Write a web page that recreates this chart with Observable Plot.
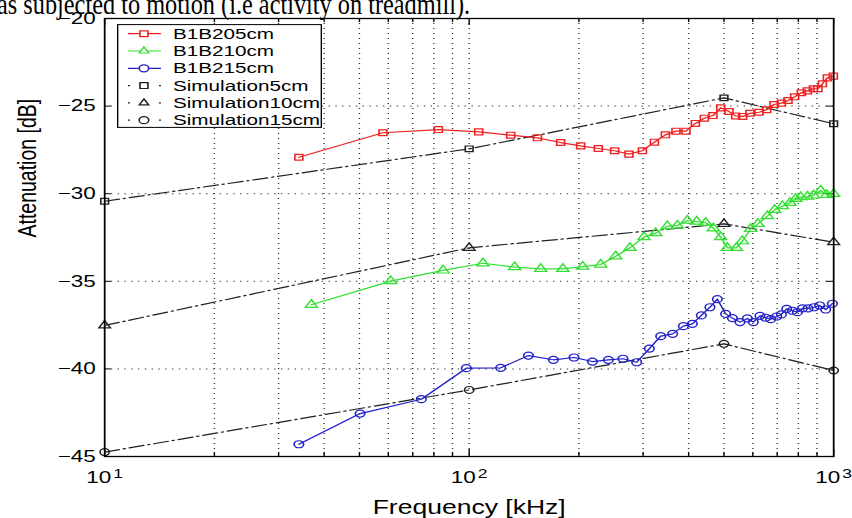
<!DOCTYPE html>
<html><head><meta charset="utf-8">
<script src="https://cdn.jsdelivr.net/npm/d3@7"></script>
<script src="https://cdn.jsdelivr.net/npm/@observablehq/plot@0.6"></script>
<style>
html,body{margin:0;padding:0;background:#fff;}
#wrap{position:relative;width:852px;height:518px;overflow:hidden;background:#fff;}
#title{position:absolute;left:-3px;top:-11px;font-family:"Liberation Serif","Times New Roman",serif;font-size:30px;line-height:30px;white-space:nowrap;color:#000;z-index:3;transform:scaleX(0.81);transform-origin:0 0;}
#chart{position:absolute;left:0;top:0;z-index:1}
#legend{position:absolute;left:117px;top:24px;z-index:2}
</style></head><body>
<div id="wrap"><div id="chart"></div><div id="title">as subjected to motion (i.e activity on treadmill).</div><svg id="legend"></svg></div>
<script>
// ---------- data ----------
const redFreq = [34.1, 58.0, 82.3, 106.2, 130.0, 153.9, 178.2, 202.2, 226.1, 250.7, 274.4, 298.7, 322.2, 345.4, 369.3, 393.3, 417.4, 441.8, 466.5, 489.8, 516.2, 538.4, 562.7, 589.3, 623.8, 655.0, 686.0, 718.8, 749.3, 781.6, 815.4, 847, 879.7, 905.6, 931.1, 961, 998];
const redVal  = [-27.92, -26.52, -26.34, -26.47, -26.66, -26.81, -27.08, -27.27, -27.42, -27.55, -27.74, -27.55, -27.06, -26.64, -26.43, -26.43, -25.99, -25.69, -25.54, -25.10, -25.31, -25.56, -25.59, -25.41, -25.35, -25.21, -24.91, -24.83, -24.68, -24.47, -24.24, -24.13, -24.01, -24.01, -23.73, -23.39, -23.29];

const greenFreq = [36.9, 60.9, 84.8, 109.1, 133.3, 157.1, 180.8, 204.8, 229.5, 252.3, 276.2, 301.7, 324.9, 349.8, 372.6, 396.8, 420.9, 445.5, 467.7, 489.8, 511.0, 540.8, 561.6, 591.9, 619.8, 657.9, 688.9, 723.4, 758.9, 786.7, 811.9, 847, 879.7, 921, 956.8, 1000];
const greenVal  = [-36.34, -34.99, -34.38, -33.97, -34.19, -34.29, -34.29, -34.16, -34.04, -33.57, -33.09, -32.48, -32.25, -31.85, -31.82, -31.53, -31.59, -31.66, -31.97, -32.48, -33.09, -33.09, -32.71, -32.01, -31.72, -31.28, -30.92, -30.71, -30.52, -30.29, -30.20, -30.16, -30.10, -29.82, -30.07, -30.01];

const blueFreq = [34.1, 50.2, 73.9, 98.2, 122.0, 145.4, 170.2, 193.9, 217.8, 240.9, 264.2, 288.1, 312.2, 335.3, 361.6, 386.9, 409.6, 433.5, 457.6, 479.6, 505.4, 527.3, 553.3, 579.6, 602.0, 627.7, 650.7, 671.7, 697.6, 718.8, 743.3, 770.4, 795.1, 820.6, 850.4, 883.1, 915.3, 950.8, 991.8];
const blueVal  = [-44.30, -42.55, -41.73, -39.96, -39.94, -39.24, -39.48, -39.35, -39.58, -39.48, -39.42, -39.62, -38.84, -38.13, -38.00, -37.56, -37.43, -36.95, -36.48, -36.02, -36.86, -37.10, -37.33, -37.12, -37.33, -36.97, -37.08, -37.16, -37.01, -36.89, -36.57, -36.68, -36.76, -36.55, -36.55, -36.48, -36.38, -36.61, -36.28];

const simFreq = [10, 100, 500, 1000];
const sim5  = [-30.43, -27.44, -24.53, -26.01];
const sim10 = [-37.52, -33.09, -31.72, -32.77];
const sim15 = [-44.75, -41.20, -38.57, -40.09];

const xMajorTicks = [10, 100, 1000];
const xTickBase = "10";
const xTickExponents = ["1", "2", "3"];
const xMinorTicks = [20, 30, 40, 50, 60, 70, 80, 90, 200, 300, 400, 500, 600, 700, 800, 900];
const gridX = [20, 30, 40, 50, 60, 70, 80, 90, 100, 200, 300, 400, 500, 600, 700, 800, 900];
const yTicks = [-45, -40, -35, -30, -25, -20];
const gridY = [-40, -35, -30, -25];

const legendLabels = ["B1B205cm", "B1B210cm", "B1B215cm", "Simulation5cm", "Simulation10cm", "Simulation15cm"];
const xLabel = "Frequency [kHz]";
const yLabel = "Attenuation [dB]";

// ---------- styles ----------
const RED = "#ee2222", GREEN = "#33e033", BLUE = "#2222c8", SIM = "#222222";
const S = 852 / 626;           // horizontal stretch of the original figure
const W = 626, H = 518;
const ML = 104 / S, MR = (852 - 833) / S, MT = 18, MB = 62;
const innerW = W - ML - MR, innerH = H - MT - MB;
const DASHDOT = "11,3,1.5,3";

const tbl = (fs, vs) => fs.map((f, i) => ({f, v: vs[i]}));
const red = tbl(redFreq, redVal), green = tbl(greenFreq, greenVal), blue = tbl(blueFreq, blueVal);
const s5 = tbl(simFreq, sim5), s10 = tbl(simFreq, sim10), s15 = tbl(simFreq, sim15);

const chart = Plot.plot({
  width: W, height: H,
  marginLeft: ML, marginRight: MR, marginTop: MT, marginBottom: MB,
  style: {fontFamily: "'Liberation Sans', Arial, sans-serif", fontSize: "16.5px", background: "transparent", color: "#000"},
  x: {type: "log", domain: [10, 1000]},
  y: {domain: [-45, -20]},
  marks: [
    Plot.ruleX(gridX, {x: d => d, stroke: "#333", strokeDasharray: "1,4", strokeWidth: 1}),
    Plot.ruleY(gridY, {y: d => d, stroke: "#333", strokeDasharray: "1,4", strokeWidth: 1}),
    Plot.tickX(xMinorTicks, {x: d => d, insetTop: innerH - 4, stroke: "#000"}),
    Plot.tickX(xMinorTicks, {x: d => d, insetBottom: innerH - 4, stroke: "#000"}),
    Plot.tickX(xMajorTicks, {x: d => d, insetTop: innerH - 7, stroke: "#000"}),
    Plot.tickX(xMajorTicks, {x: d => d, insetBottom: innerH - 7, stroke: "#000"}),
    Plot.tickY(yTicks, {y: d => d, insetRight: innerW - 5, stroke: "#000"}),
    Plot.tickY(yTicks, {y: d => d, insetLeft: innerW - 5, stroke: "#000"}),
    Plot.axisX({ticks: xMajorTicks, tickSize: 0, tickPadding: 15, label: null,
      tickFormat: d => xTickBase + "^" + xTickExponents[xMajorTicks.indexOf(d)], fontSize: 16.5}),
    Plot.axisY({ticks: yTicks, tickSize: 0, tickPadding: 6.6, label: null, fontSize: 16.5}),
    Plot.text([yLabel], {text: d => d, frameAnchor: "left", dx: -56.5, rotate: -90, fontSize: 19.5, lineAnchor: "middle"}),
    Plot.text([xLabel], {text: d => d, frameAnchor: "bottom", dy: 51, fontSize: 19.5, lineAnchor: "middle"}),
    // simulations
    Plot.line(s5, {x: "f", y: "v", stroke: SIM, strokeWidth: 1.2, strokeDasharray: DASHDOT}),
    Plot.line(s10, {x: "f", y: "v", stroke: SIM, strokeWidth: 1.2, strokeDasharray: DASHDOT}),
    Plot.line(s15, {x: "f", y: "v", stroke: SIM, strokeWidth: 1.2, strokeDasharray: DASHDOT}),
    Plot.dot(s5, {x: "f", y: "v", symbol: "square", r: 3.2, stroke: SIM, strokeWidth: 1.2}),
    Plot.dot(s10, {x: "f", y: "v", symbol: "triangle", r: 3.2, stroke: SIM, strokeWidth: 1.2}),
    Plot.dot(s15, {x: "f", y: "v", symbol: "circle", r: 3.4, stroke: SIM, strokeWidth: 1.2}),
    // measurements
    Plot.line(red, {x: "f", y: "v", stroke: RED, strokeWidth: 1.2}),
    Plot.dot(red, {x: "f", y: "v", symbol: "square", r: 3.3, stroke: RED, strokeWidth: 1.2}),
    Plot.line(green, {x: "f", y: "v", stroke: GREEN, strokeWidth: 1.2}),
    Plot.dot(green, {x: "f", y: "v", symbol: "triangle", r: 3.3, stroke: GREEN, strokeWidth: 1.2}),
    Plot.line(blue, {x: "f", y: "v", stroke: BLUE, strokeWidth: 1.2}),
    Plot.dot(blue, {x: "f", y: "v", symbol: "circle", r: 3.5, stroke: BLUE, strokeWidth: 1.2}),
    Plot.frame({stroke: "#000", strokeWidth: 1.3})
  ]
});
// render "10^n" tick labels with a real superscript
chart.querySelectorAll("text").forEach(t => {
  const s = t.textContent;
  if (/^10\^\d$/.test(s)) {
    const [base, exp] = s.split("^");
    t.textContent = "";
    const a = document.createElementNS("http://www.w3.org/2000/svg", "tspan");
    a.textContent = base;
    const b = document.createElementNS("http://www.w3.org/2000/svg", "tspan");
    b.textContent = exp;
    b.setAttribute("dy", "-0.42em");
    b.setAttribute("dx", "0.12em");
    b.setAttribute("font-size", "0.78em");
    t.appendChild(a); t.appendChild(b);
  }
});
chart.setAttribute("width", 852);
chart.setAttribute("height", 518);
chart.setAttribute("preserveAspectRatio", "none");
chart.style.width = "852px";
chart.style.height = "518px";
chart.style.maxWidth = "none";
chart.style.background = "transparent";
document.getElementById("chart").appendChild(chart);

// ---------- legend (same horizontal stretch) ----------
const LW = 205, LH = 104, LVW = LW / S;
const leg = d3.select("#legend").attr("width", LW).attr("height", LH)
  .attr("viewBox", `0 0 ${LVW} ${LH}`).attr("preserveAspectRatio", "none");
leg.append("rect").attr("x", 0.5).attr("y", 0.6).attr("width", LVW - 1).attr("height", LH - 1.2)
  .attr("fill", "#fff").attr("stroke", "#000").attr("stroke-width", 1);
const legColors = [RED, GREEN, BLUE, SIM, SIM, SIM];
const tri = d3.symbolTriangle2 || d3.symbolTriangle;
const legSyms = [d3.symbolSquare, tri, d3.symbolCircle, d3.symbolSquare, tri, d3.symbolCircle];
const legR = [3.3, 3.3, 3.5, 3.3, 3.3, 3.5];
legendLabels.forEach((lab, i) => {
  const y = 9.7 + i * 17.3;
  const sim = i >= 3;
  const g = leg.append("g");
  const ln = g.append("line").attr("x1", 8.1).attr("x2", 32.3).attr("y1", y).attr("y2", y)
    .attr("stroke", legColors[i]).attr("stroke-width", 1.2);
  if (sim) ln.attr("stroke-dasharray", "1.5,21.2");
  g.append("path").attr("d", d3.symbol(legSyms[i], Math.PI * legR[i] * legR[i])())
    .attr("transform", `translate(19.8,${y})`).attr("fill", "#fff")
    .attr("stroke", legColors[i]).attr("stroke-width", 1.2);
  g.append("text").attr("x", 41.1).attr("y", y).attr("dominant-baseline", "central")
    .attr("font-family", "'Liberation Sans', Arial, sans-serif").attr("font-size", 15.2)
    .attr("fill", "#000").text(lab);
});
</script>
</body></html>
